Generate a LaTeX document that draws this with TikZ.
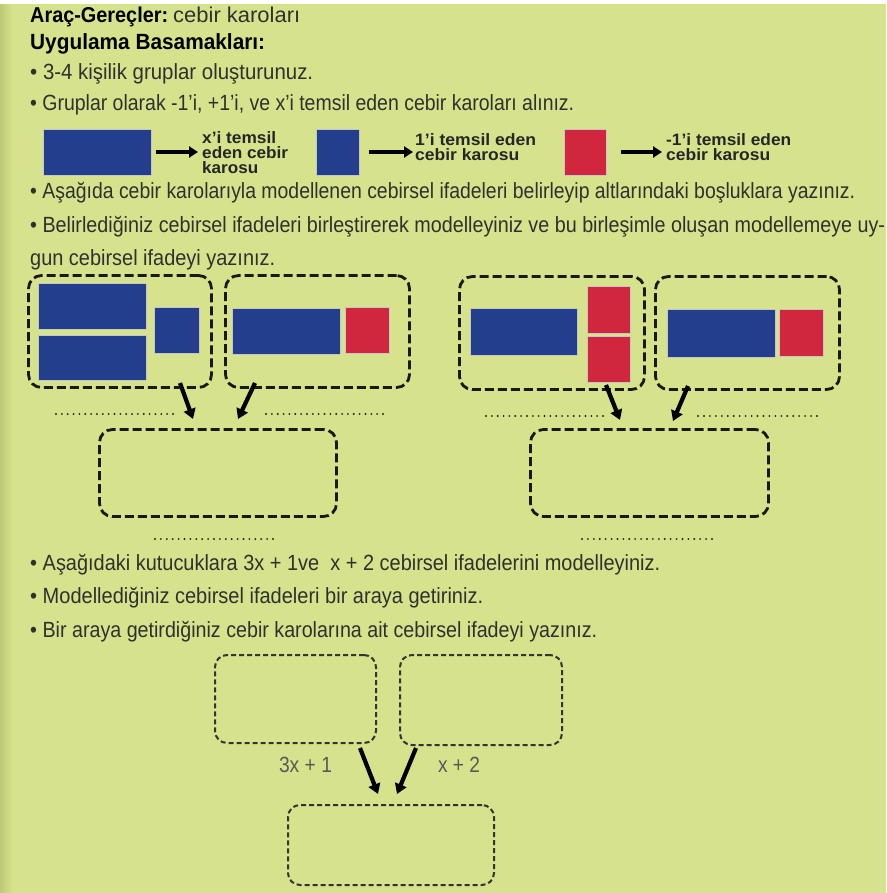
\documentclass[tikz,border=0pt]{standalone}
\usepackage{fontspec}
\setmainfont{Liberation Sans}
\usetikzlibrary{arrows.meta,calc}
\definecolor{bg}{RGB}{214,227,140}
\definecolor{edge}{RGB}{188,200,118}
\definecolor{tileblue}{RGB}{35,62,140}
\definecolor{tilered}{RGB}{208,38,62}
\definecolor{txt}{RGB}{48,48,48}
\newcommand\fitw[2]{\resizebox{#1pt}{\height}{#2}}
\newcommand\dotrow[4]{% x1, x2, y, count
  \foreach \k in {0,...,#4}{\fill[black!85] ({#1+(#2-#1)*\k/#4},#3) circle[radius=1.05pt];}}
\begin{document}
\begin{tikzpicture}[x=1pt,y=-1pt,
  bigbox/.style={draw=black!90, line width=2.8pt, dash pattern=on 9pt off 4pt, rounded corners=13pt, inner sep=0pt},
  smallbox/.style={draw=black!80, line width=2pt, dash pattern=on 5pt off 3pt, rounded corners=12pt, inner sep=0pt},
  tile/.style={draw=white!55!gray, line width=0.6pt, inner sep=0pt, fill=#1},
  arr/.style={line width=4.2pt, -{Triangle[length=10pt,width=12pt]}},
  larr/.style={line width=4pt, -{Triangle[length=9pt,width=11pt]}},
  body/.style={anchor=base west, inner sep=0pt, text=txt, font=\fontsize{22}{24}\selectfont},
  leg/.style={anchor=base west, inner sep=0pt, text=black!85, font=\fontsize{16.5}{16}\selectfont\bfseries},
  lab/.style={anchor=base, inner sep=0pt, text=black!65, font=\fontsize{22}{24}\selectfont},
]
\useasboundingbox (0,0) rectangle (886,893);
\fill[bg] (0,0) rectangle (886,893);
\shade[left color=edge, right color=bg] (0,0) rectangle (12,893);
\fill[white] (0,0) rectangle (886,4.5);

% header text
\node[anchor=base west, inner sep=0pt, font=\fontsize{21.5}{24}\selectfont] (h1) at (30,23)
  {\fitw{138}{\bfseries Araç-Gereçler:}\hspace{5pt}{\color{txt}\fitw{127}{cebir karoları}}};
\node[anchor=base west, inner sep=0pt, font=\fontsize{22}{24}\selectfont\bfseries] (h2) at (30,50)
  {\fitw{235}{Uygulama Basamakları:}};
\node[body] (p1) at (30,80) {\fitw{283}{• 3-4 kişilik gruplar oluşturunuz.}};
\node[body] (p2) at (30,111) {\fitw{544}{• Gruplar olarak -1’i, +1’i, ve x’i temsil eden cebir karoları alınız.}};

% legend
\node[tile=tileblue, minimum width=108pt, minimum height=46pt] (lx) at (97,152) {};
\node[tile=tileblue, minimum width=43pt, minimum height=46pt] (l1) at (337.5,152) {};
\node[tile=tilered, minimum width=42pt, minimum height=46pt] (lm) at (585.5,152) {};
\node[leg] (tx1) at (202,144) {\fitw{74}{x’i temsil}};
\node[leg] (tx2) at (202,159) {\fitw{86}{eden cebir}};
\node[leg] (tx3) at (202,174) {\fitw{56}{karosu}};
\node[leg] (t11) at (415,146) {\fitw{121}{1’i temsil eden}};
\node[leg] (t12) at (415,161) {\fitw{104}{cebir karosu}};
\node[leg] (tm1) at (666,146) {\fitw{125}{-1’i temsil eden}};
\node[leg] (tm2) at (666,161) {\fitw{104}{cebir karosu}};
\draw[larr, shorten <=5pt, shorten >=4pt] (lx.east) -- (lx.east -| tx1.west);
\draw[larr, shorten <=10pt, shorten >=2pt] (l1.east) -- (l1.east -| t11.west);
\draw[larr, shorten <=14pt, shorten >=4pt] (lm.east) -- (lm.east -| tm1.west);

\node[body] (p3) at (30,199) {\fitw{825}{• Aşağıda cebir karolarıyla modellenen cebirsel ifadeleri belirleyip altlarındaki boşluklara yazınız.}};
\node[body] (p4) at (30,233) {\fitw{855}{• Belirlediğiniz cebirsel ifadeleri birleştirerek modelleyiniz ve bu birleşimle oluşan modellemeye uy-}};
\node[body] (p5) at (30,265) {\fitw{245}{gun cebirsel ifadeyi yazınız.}};

% upper-left group
\node[bigbox, minimum width=183pt, minimum height=112pt] (A) at (120,331.5) {};
\node[bigbox, minimum width=184pt, minimum height=112pt] (B) at (317.5,331.5) {};
\node[bigbox, minimum width=237pt, minimum height=87pt] (C) at (218,473) {};
\node[tile=tileblue, minimum width=108pt, minimum height=46pt] (a1) at (92,306) {};
\node[tile=tileblue, minimum width=108pt, minimum height=45pt] (a2) at (92,357.5) {};
\node[tile=tileblue, minimum width=45pt, minimum height=46pt] (a3) at (176.5,330) {};
\node[tile=tileblue, minimum width=108pt, minimum height=46pt] (b1) at (286,331) {};
\node[tile=tilered, minimum width=44pt, minimum height=46pt] (b2) at (367,330) {};
\coordinate (s1) at (180,383); \coordinate (e1) at (193,419);
\coordinate (s2) at (255,383); \coordinate (e2) at (238,419);
\draw[arr] (s1) -- (e1);
\draw[arr] (s2) -- (e2);
\dotrow{56}{173}{414}{20}
\dotrow{266}{383}{414}{20}
\dotrow{155}{273}{539}{20}

% upper-right group
\node[bigbox, minimum width=185pt, minimum height=113pt] (D) at (552,333) {};
\node[bigbox, minimum width=184pt, minimum height=113pt] (E) at (747.5,333) {};
\node[bigbox, minimum width=238pt, minimum height=87pt] (F) at (649.5,473) {};
\node[tile=tileblue, minimum width=107pt, minimum height=47pt] (d1) at (523.5,331.5) {};
\node[tile=tilered, minimum width=43pt, minimum height=47pt] (d2) at (608.5,309.5) {};
\node[tile=tilered, minimum width=43pt, minimum height=46pt] (d3) at (608.5,359) {};
\node[tile=tileblue, minimum width=108pt, minimum height=48pt] (f1) at (721,333) {};
\node[tile=tilered, minimum width=44pt, minimum height=47pt] (f2) at (801,332.5) {};
\coordinate (s3) at (606,385); \coordinate (e3) at (620,420);
\coordinate (s4) at (688,386); \coordinate (e4) at (673,421);
\draw[arr] (s3) -- (e3);
\draw[arr] (s4) -- (e4);
\dotrow{486}{603}{416}{20}
\dotrow{698}{817}{416}{20}
\dotrow{582}{712}{539}{22}

% lower bullets
\node[body] (p6) at (30,570) {\fitw{630}{• Aşağıdaki kutucuklara 3x + 1ve\ \ x + 2 cebirsel ifadelerini modelleyiniz.}};
\node[body] (p7) at (30,603) {\fitw{453}{• Modellediğiniz cebirsel ifadeleri bir araya getiriniz.}};
\node[body] (p8) at (30,637) {\fitw{567}{• Bir araya getirdiğiniz cebir karolarına ait cebirsel ifadeyi yazınız.}};

% bottom diagram
\node[smallbox, minimum width=161pt, minimum height=88pt] (G) at (295.5,699) {};
\node[smallbox, minimum width=162pt, minimum height=90pt] (H) at (481,700) {};
\node[smallbox, minimum width=206pt, minimum height=80pt] (I) at (391,845) {};
\node[lab] (g1) at (305.5,772) {\fitw{53}{3x + 1}};
\node[lab] (h1l) at (459,772) {\fitw{42}{x + 2}};
\coordinate (s5) at (360,748); \coordinate (e5) at (378,794);
\coordinate (s6) at (416,748); \coordinate (e6) at (397,794);
\draw[arr] (s5) -- (e5);
\draw[arr] (s6) -- (e6);
\end{tikzpicture}
\end{document}
